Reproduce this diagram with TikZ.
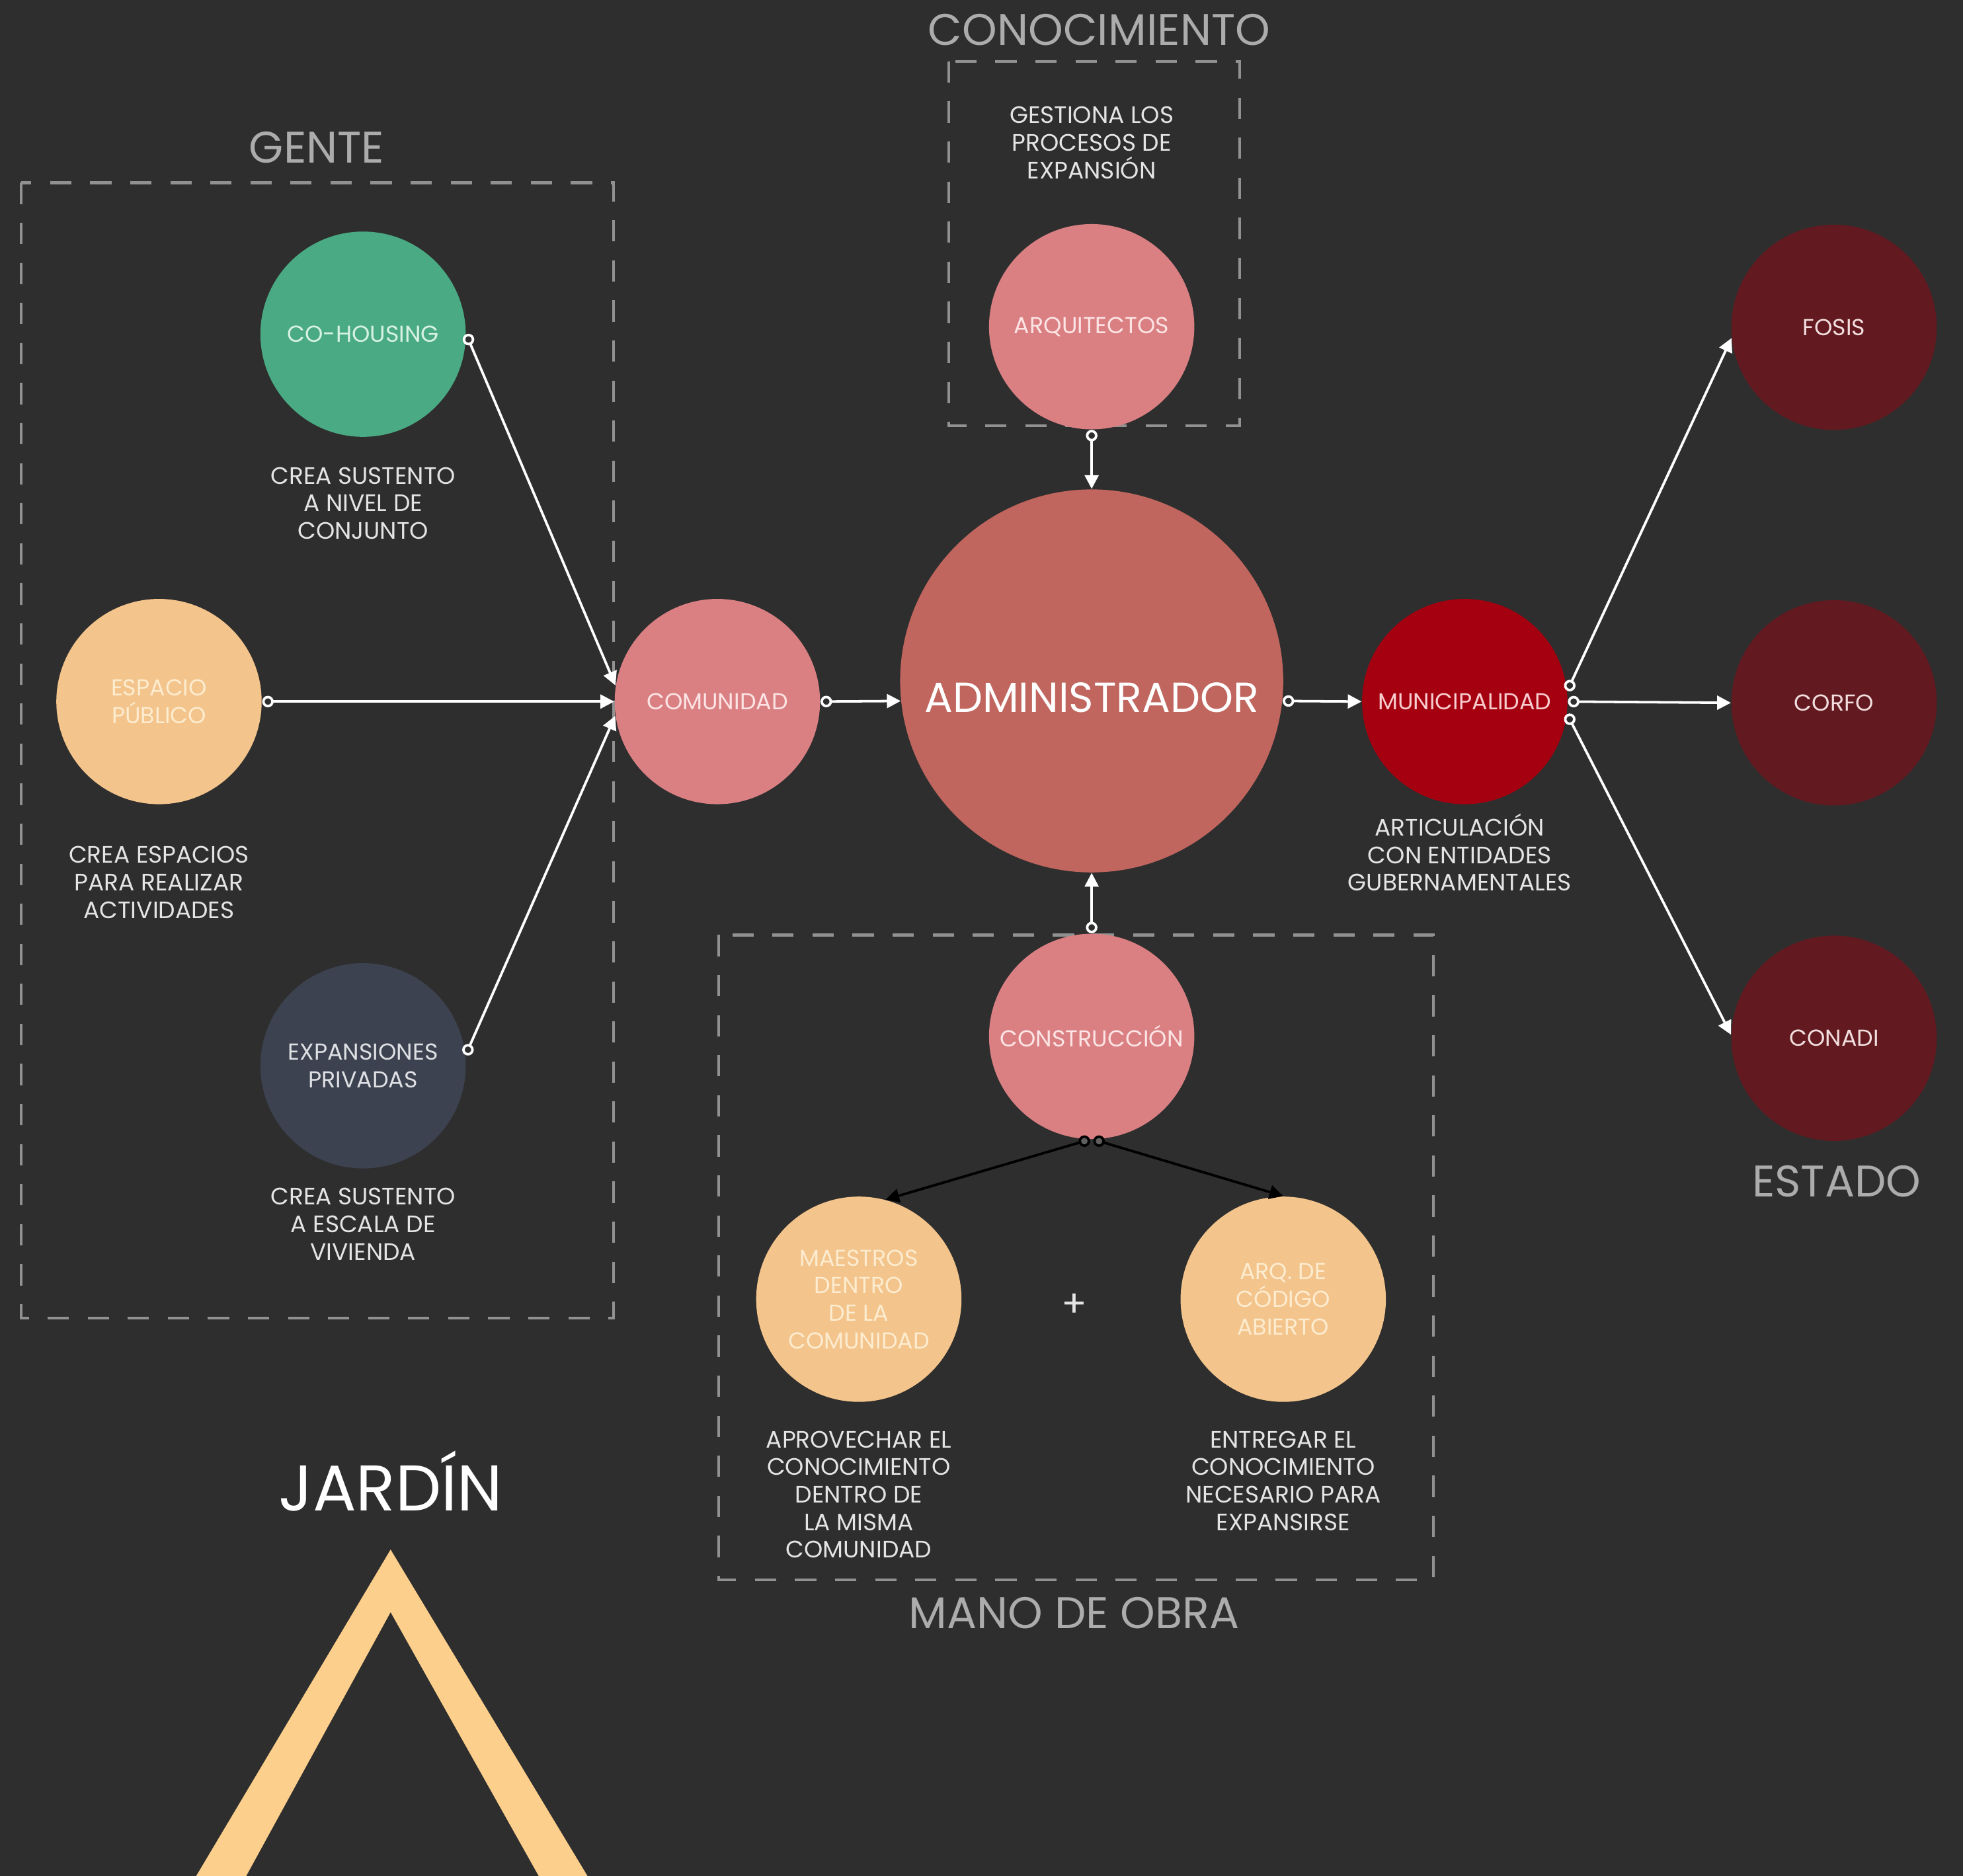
\documentclass[tikz,border=0pt]{standalone}
\usepackage{fontspec}
\setmainfont{Poppins}
\usetikzlibrary{arrows.meta}
\definecolor{bgc}{RGB}{46,46,46}
\definecolor{hdrc}{RGB}{172,172,172}
\definecolor{dashc}{RGB}{145,145,145}
\definecolor{lblc}{RGB}{228,228,228}
\definecolor{greenc}{RGB}{74,170,131}
\definecolor{greentxt}{RGB}{215,242,226}
\definecolor{peachc}{RGB}{243,196,139}
\definecolor{peachtxt}{RGB}{253,236,208}
\definecolor{slatec}{RGB}{60,66,79}
\definecolor{slatetxt}{RGB}{222,224,228}
\definecolor{pinkc}{RGB}{218,128,131}
\definecolor{pinktxt}{RGB}{252,228,228}
\definecolor{adminc}{RGB}{192,102,94}
\definecolor{redc}{RGB}{164,0,16}
\definecolor{redtxt}{RGB}{248,205,205}
\definecolor{maroonc}{RGB}{98,26,32}
\definecolor{maroontxt}{RGB}{242,222,222}
\definecolor{jardc}{RGB}{252,207,140}
\definecolor{knobc}{RGB}{95,95,95}
\newcommand{\bubfont}{\fontsize{9.2}{11}\selectfont}
\newcommand{\lblfont}{\fontsize{9.5}{11}\selectfont}
\newcommand{\hdrfont}{\fontsize{17.7}{20}\selectfont}
\newcommand{\admfont}{\fontsize{16.8}{19}\selectfont}
\newcommand{\jarfont}{\fontsize{25.8}{29}\selectfont}
\tikzset{
  bub/.style={circle, minimum size=82pt, inner sep=0pt, align=center, font=\bubfont},
  lbl/.style={align=center, font=\lblfont, text=lblc, inner sep=0pt},
  hdr/.style={font=\hdrfont, text=hdrc, inner sep=0pt, anchor=base},
  dbox/.style={draw=dashc, line width=1.1pt, dash pattern=on 8.5pt off 7.5pt},
  wconn/.style={draw=white, line width=1pt,
    {Circle[open, length=4.6pt]}-{Triangle[length=5.5pt, width=5.5pt]}},
  bconn/.style={draw=black, line width=1pt,
    {Circle[fill=knobc, length=4.6pt]}-{Triangle[length=5.5pt, width=5.5pt]}}
}
\begin{document}
\begin{tikzpicture}[x=0.5pt,y=-0.5pt]
\fill[bgc] (0,0) rectangle (1568,1498.8);
\useasboundingbox (0,0) rectangle (1568,1498.8);

% dashed group boxes
\draw[dbox] (17,146) rectangle (490,1053);
\draw[dbox] (758,49) rectangle (990,340);
\draw[dbox] (574,747) rectangle (1145,1262);

% headers
\node[hdr] (conocimiento) at (878,36) {CONOCIMIENTO};
\node[hdr] (gente) at (253,130) {GENTE};
\node[hdr] (estado) at (1467,956) {ESTADO};
\node[hdr] (manodeobra) at (858,1301) {MANO DE OBRA};
\node[font=\jarfont, text=white, inner sep=0pt, anchor=base] (jardin) at (312,1207) {JARDÍN};

% jardin chevron
\fill[jardc] (312,1238) -- (470,1500) -- (431,1500) -- (312,1288) -- (196,1500) -- (156,1500) -- cycle;

% circles
\node[bub, fill=greenc, text=greentxt] (cohousing) at (290,267) {CO-HOUSING};
\node[bub, fill=peachc, text=peachtxt] (espacio) at (127,560.5) {ESPACIO\\PÚBLICO};
\node[bub, fill=slatec, text=slatetxt] (expansiones) at (290,851.5) {EXPANSIONES\\PRIVADAS};
\node[bub, fill=pinkc, text=pinktxt] (comunidad) at (573,560.5) {COMUNIDAD};
\node[circle, minimum size=153pt, inner sep=0pt, fill=adminc] (admin) at (872,544) {};
\node[font=\admfont, text=white, inner sep=0pt, anchor=base] (admintext) at (872,569) {ADMINISTRADOR};
\node[bub, fill=pinkc, text=pinktxt] (arquitectos) at (872,261) {ARQUITECTOS};
\node[bub, fill=pinkc, text=pinktxt] (construccion) at (872,828) {CONSTRUCCIÓN};
\node[bub, fill=redc, text=redtxt] (municipalidad) at (1170,560.5) {MUNICIPALIDAD};
\node[bub, fill=maroonc, text=maroontxt] (fosis) at (1465,261.5) {FOSIS};
\node[bub, fill=maroonc, text=maroontxt] (corfo) at (1465,561.5) {CORFO};
\node[bub, fill=maroonc, text=maroontxt] (conadi) at (1465,829.5) {CONADI};
\node[bub, fill=peachc, text=peachtxt] (maestros) at (686,1038) {MAESTROS\\DENTRO\\DE LA\\COMUNIDAD};
\node[bub, fill=peachc, text=peachtxt] (arqcod) at (1025,1038) {ARQ. DE\\CÓDIGO\\ABIERTO};

% descriptive labels
\node[lbl] (lcohousing) at (290,402) {CREA SUSTENTO\\A NIVEL DE\\CONJUNTO};
\node[lbl] (lespacio) at (127,705) {CREA ESPACIOS\\PARA REALIZAR\\ACTIVIDADES};
\node[lbl] (lexpansiones) at (290,978) {CREA SUSTENTO\\A ESCALA DE\\VIVIENDA};
\node[lbl] (larquitectos) at (872,114) {GESTIONA LOS\\PROCESOS DE\\EXPANSIÓN};
\node[lbl] (lmunicipalidad) at (1166,681) {ARTICULACIÓN\\CON ENTIDADES\\GUBERNAMENTALES};
\node[lbl] (lmaestros) at (686,1194) {APROVECHAR EL\\CONOCIMIENTO\\DENTRO DE\\LA MISMA\\COMUNIDAD};
\node[lbl] (larqcod) at (1025,1183) {ENTREGAR EL\\CONOCIMIENTO\\NECESARIO PARA\\EXPANSIRSE};
\node[font=\fontsize{15}{18}\selectfont, text=lblc, inner sep=0pt] (plus) at (858,1043) {+};

% connectors
\draw[wconn] (cohousing.0) -- (comunidad.171);
\draw[wconn] (espacio.0) -- (comunidad.180);
\draw[wconn] (expansiones.6) -- (comunidad.188);
\draw[wconn] (comunidad.0) -- (admin.186);
\draw[wconn] (arquitectos.270) -- (admin.90);
\draw[wconn] (construccion.90) -- (admin.270);
\draw[wconn] (admin.354) -- (municipalidad.180);
\draw[wconn] (municipalidad.6) -- (fosis.186);
\draw[wconn] (municipalidad.0) -- (corfo.180);
\draw[wconn] (municipalidad.-7) -- (conadi.178);
\draw[bconn] (construccion.269) -- (maestros.75);
\draw[bconn] (construccion.271) -- (arqcod.90);
\end{tikzpicture}
\end{document}
